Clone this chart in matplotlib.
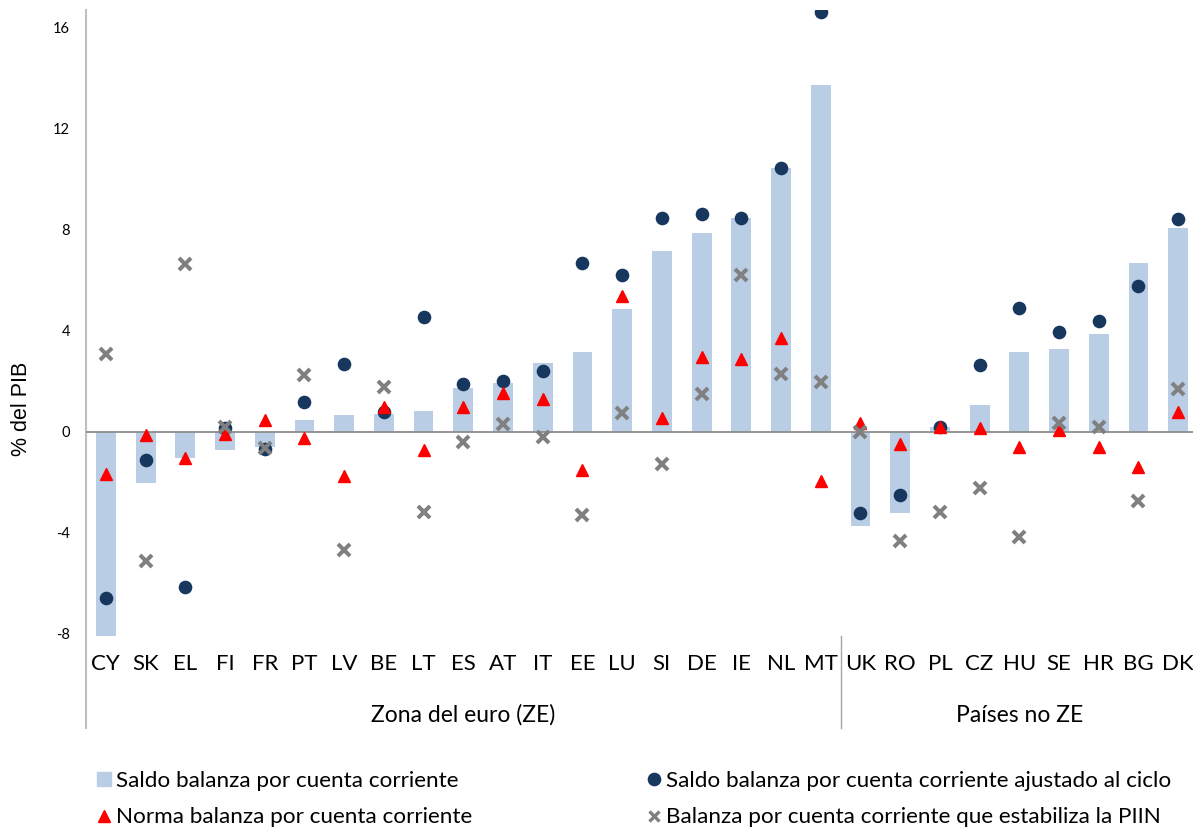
import matplotlib
matplotlib.use("Agg")
import matplotlib.pyplot as plt
from matplotlib.lines import Line2D
import numpy as np

plt.rcParams['font.family'] = ['Lato', 'DejaVu Sans']

countries = ["CY", "SK", "EL", "FI", "FR", "PT", "LV", "BE", "LT", "ES", "AT", "IT", "EE", "LU",
             "SI", "DE", "IE", "NL", "MT", "UK", "RO", "PL", "CZ", "HU", "SE", "HR", "BG", "DK"]
group_names = ["Zona del euro (ZE)", "Países no ZE"]
group_sizes = [19, 9]

saldo = [-8.1, -2.05, -1.06, -0.75, -0.63, 0.44, 0.66, 0.68, 0.83, 1.74, 1.94, 2.73, 3.14, 4.84,
         7.16, 7.85, 8.44, 10.46, 13.74, -3.73, -3.24, 0.17, 1.06, 3.16, 3.26, 3.86, 6.66, 8.06]
ajustado = [-6.6, -1.14, -6.16, 0.15, -0.71, 1.17, 2.66, 0.78, 4.55, 1.87, 1.99, 2.4, 6.66, 6.21,
            8.44, 8.63, 8.44, 10.46, 16.63, -3.24, -2.51, 0.19, 2.63, 4.89, 3.95, 4.37, 5.76, 8.42]
norma = [-1.70, -0.13, -1.06, -0.11, 0.44, -0.26, -1.76, 0.96, -0.72, 0.96, 1.52, 1.30, -1.54, 5.37,
         0.53, 2.97, 2.86, 3.70, -1.94, 0.32, -0.49, 0.19, 0.14, -0.62, 0.05, -0.62, -1.41, 0.78]
piin = [3.08, -5.14, 6.63, 0.18, -0.65, 2.25, -4.68, 1.77, -3.2, -0.42, 0.3, -0.22, -3.3, 0.74,
        -1.3, 1.49, 6.2, 2.26, 1.96, 0.0, -4.33, -3.2, -2.23, -4.18, 0.33, 0.18, -2.76, 1.7]

yticks = [-8, -4, 0, 4, 8, 12, 16]

labels = ["Saldo balanza por cuenta corriente",
          "Norma balanza por cuenta corriente",
          "Saldo balanza por cuenta corriente ajustado al ciclo",
          "Balanza por cuenta corriente que estabiliza la PIIN"]

W, H = 1193, 827
fig = plt.figure(figsize=(W / 100, H / 100), dpi=100)

# axes placement in pixels
x_left, x_right = 86, 1198
y_top, y_bot = 10, 636
ax = fig.add_axes([x_left / W, (H - y_bot) / H, (x_right - x_left) / W, (y_bot - y_top) / H])

bar_c = "#B9CDE5"
circ_c = "#17375E"
tri_c = "#FF0000"
x_c = "#808080"

x = np.arange(len(countries))
ax.bar(x, saldo, width=0.5, color=bar_c, zorder=2)
ax.axhline(0, color="#8C8C8C", lw=1.3, zorder=3)
ax.plot(x, ajustado, "o", color=circ_c, ms=8.8, zorder=4)
ax.plot(x, norma, "^", color=tri_c, ms=8.8, zorder=5)
ax.plot(x, piin, "x", color=x_c, ms=8.3, mew=2.9, zorder=6)

ax.set_xlim(-0.5, len(countries) - 0.5)
ax.set_ylim(-8.1, 16.7)
ax.set_yticks(yticks)
ax.set_yticklabels([str(t) for t in yticks], fontsize=10.5)
ax.set_xticks(x)
ax.set_xticklabels(countries, fontsize=16)
ax.tick_params(axis="y", length=0, pad=11.5)
ax.tick_params(axis="x", length=0, pad=13)

for s in ["top", "right", "bottom", "left"]:
    ax.spines[s].set_visible(False)

# left axis line extended into the category-label area
ext = (y_bot - 728) / (y_bot - y_top)
ax.plot([-0.5, -0.5], [ext, 1], transform=ax.get_xaxis_transform(), color="#BFBFBF",
        lw=1.5, clip_on=False, zorder=1)
# group separator
sep = group_sizes[0] - 0.5
ax.plot([sep, sep], [0, ext], transform=ax.get_xaxis_transform(), color="#A6A6A6",
        lw=1.0, clip_on=False)

# group labels
start = 0
gy = (y_bot - 715) / (y_bot - y_top)
for name, n in zip(group_names, group_sizes):
    ax.text(start + (n - 1) / 2, gy, name, transform=ax.get_xaxis_transform(),
            ha="center", va="center", fontsize=16.5)
    start += n

fig.text(22 / W, 1 - 409 / H, "% del PIB", rotation=90, ha="center", va="center",
         fontsize=15.5, family=["Liberation Sans", "DejaVu Sans"])

# legend
h_bar = Line2D([], [], marker="s", ls="none", color=bar_c, ms=10)
h_tri = Line2D([], [], marker="^", ls="none", color=tri_c, ms=8)
h_circ = Line2D([], [], marker="o", ls="none", color=circ_c, ms=8.8)
h_x = Line2D([], [], marker="x", ls="none", color=x_c, ms=6.5, mew=2.4)

fs = 16.2
em = fs * 100 / 72
common = dict(frameon=False, fontsize=fs, handlelength=0.9, handletextpad=0.1,
              borderpad=0, borderaxespad=0, labelspacing=0.75, loc="center left")
leg1 = fig.legend([h_bar, h_tri], labels[:2],
                  bbox_to_anchor=((104 - 0.45 * em) / W, 1 - 799 / H), **common)
leg2 = fig.legend([h_circ, h_x], labels[2:],
                  bbox_to_anchor=((654 - 0.45 * em) / W, 1 - 799 / H), **common)

fig.savefig("out.png", dpi=100)
